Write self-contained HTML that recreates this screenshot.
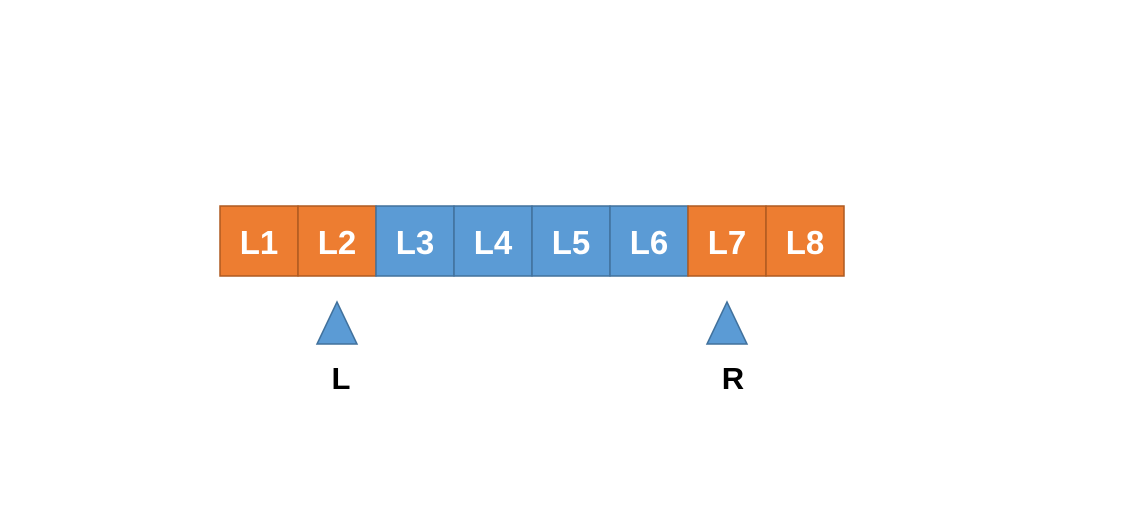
<!DOCTYPE html>
<html><head><style>
body{margin:0;background:#fff;width:1124px;height:526px;overflow:hidden}
svg text{font-family:"Liberation Sans",Arial,sans-serif;font-weight:bold}
</style></head><body>
<svg width="1124" height="526">
<g id="cells"></g>
<g>
<polygon points="337,302 317,344 357,344" fill="#5b9bd5" stroke="#41719c" stroke-width="1.5"/>
<text x="341" y="389" font-size="31" text-anchor="middle" fill="#000">L</text>
</g>
<g>
<polygon points="727,302 707,344 747,344" fill="#5b9bd5" stroke="#41719c" stroke-width="1.5"/>
<text x="733" y="389" font-size="31" text-anchor="middle" fill="#000">R</text>
</g>
</svg>
<script>
const labels=["L1","L2","L3","L4","L5","L6","L7","L8"];
const kinds=["o","o","b","b","b","b","o","o"];
const g=document.getElementById('cells');
const ns="http://www.w3.org/2000/svg";
labels.forEach((l,i)=>{
  const x=220+i*78;
  const r=document.createElementNS(ns,'rect');
  r.setAttribute('x',x);r.setAttribute('y',206);r.setAttribute('width',78);r.setAttribute('height',70);
  r.setAttribute('fill',kinds[i]=="o"?"#ed7d31":"#5b9bd5");
  r.setAttribute('stroke',kinds[i]=="o"?"#ae5a21":"#41719c");
  r.setAttribute('stroke-width',1.5);
  
  
  g.appendChild(r);
  const t=document.createElementNS(ns,'text');
  t.setAttribute('x',x+39);t.setAttribute('y',254);t.setAttribute('font-size',33);
  t.setAttribute('text-anchor','middle');t.setAttribute('fill','#fff');
  t.textContent=l;
  
  
  g.appendChild(t);
});
</script>
</body></html>
